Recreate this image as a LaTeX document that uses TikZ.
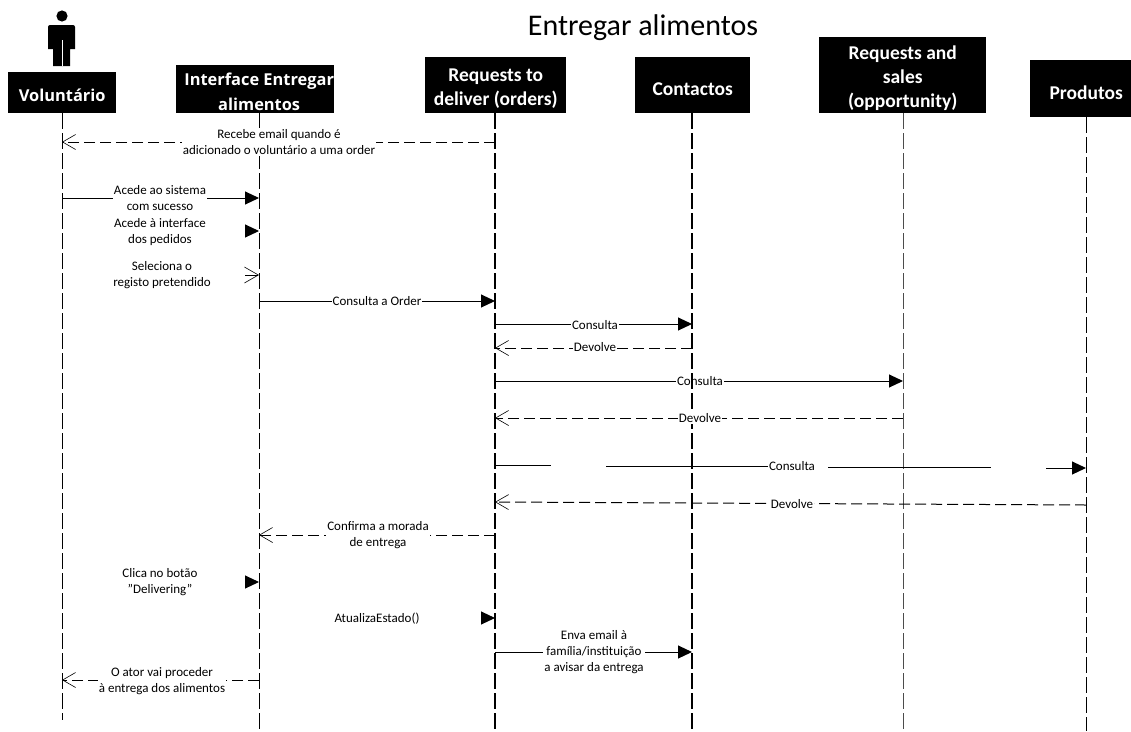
\documentclass[tikz,border=0pt]{standalone}
\usepackage{fontspec}
\setmainfont{Carlito}
\newfontfamily\headalt{Open Sans}
\usetikzlibrary{arrows.meta}
\tikzset{
  x=1pt,y=-1pt,
  hbox/.style={fill=black,inner sep=0pt},
  htext/.style={text=white,inner sep=0pt,align=center,font=\bfseries\fontsize{19.5}{24}\selectfont},
  htextalt/.style={htext,font=\headalt\bfseries\fontsize{16.4}{24.5}\selectfont},
  life/.style={dash pattern=on 16pt off 4pt,line width=1pt},
  msg/.style={line width=1pt,-{Triangle[length=14pt,width=13pt]}},
  ret/.style={line width=1pt,dash pattern=on 11pt off 5pt,-{Straight Barb[length=13pt,width=15pt,line width=.6pt]}},
  lbl/.style={fill=white,inner sep=1pt,align=center,font=\fontsize{13}{16}\selectfont},
  free/.style={inner sep=1pt,align=center,font=\fontsize{13}{16}\selectfont},
}
% name, x0, x1, y0, y1, text style, xshift, yshift, text
\newcommand{\hdr}[9]{\node[hbox,minimum width=#3pt-#2pt,minimum height=#5pt-#4pt,anchor=north west,
  label={[#6,xshift=#7pt,yshift=-#8pt]center:{#9}}] (#1) at (#2,#4) {};}
\begin{document}
\begin{tikzpicture}
\useasboundingbox (0,0) rectangle (1131,731);
\node[font=\fontsize{30}{34}\selectfont,inner sep=0pt] (title) at (643,28) {Entregar alimentos};
% actor
\fill (62,16) circle (5.6);
\fill (48,27) arc[start angle=180,end angle=270,radius=2] -- (73,25) arc[start angle=-90,end angle=0,radius=2] -- (75,49) -- (70,49) -- (70,66) -- (53,66) -- (53,49) -- (48,49) -- cycle;
\draw[white,line width=.8pt] (62,40) -- (62,66);
% headers
\hdr{vol}{8}{116}{72}{113}{htextalt}{0}{3}{Voluntário}
\hdr{int}{176}{334}{65}{113}{htextalt}{4}{2.5}{Interface Entregar\\alimentos}
\hdr{req}{425}{566}{57}{113}{htext}{0}{3}{Requests to\\deliver (orders)}
\hdr{con}{635}{750}{57}{113}{htext}{0}{4}{Contactos}
\hdr{opp}{819}{986}{37}{113}{htext}{0}{3}{Requests and\\sales\\(opportunity)}
\hdr{pro}{1030}{1131}{60}{117}{htext}{5.5}{4}{Produtos}
% lifeline ends
\coordinate (volE) at (62,720);
\coordinate (intE) at (259,731);
\coordinate (reqE) at (495,731);
\coordinate (conE) at (692,731);
\coordinate (oppE) at (903,731);
\coordinate (proE) at (1086,731);
\draw[life] (62,113) -- (volE);
\draw[life] (259,113) -- (intE);
\draw[life,line width=1.5pt] (495,113) -- (reqE);
\draw[life,draw=black!70] (903,113) -- (oppE);
\draw[life] (1086,117) -- (proE);
% message end points
\foreach \n/\x/\y in {a1/495/142,a2/62/142,b1/62/198,b2/259/198,c1/245/231,c2/259/231,d1/245/275,d2/259/275,
  e1/259/301,e2/495/301,f1/495/324,f2/692/324,g1/692/348,g2/495/348,h1/495/381,h2/903/381,i1/903/418,i2/495/418,
  k1/1086/505,k2/495/502,l1/495/535,l2/259/535,m1/245/582,m2/259/582,n1/481/618,n2/495/618,o1/495/652,o2/692/652,
  p1/259/680,p2/62/680,j1/495/465,j2/551/465,j3/606/466,j3b/770/466,j3c/828/467,j4/991/467,j5/1046/468,j6/1086/468}
  {\coordinate (\n) at (\x,\y);}
% connectors
\draw[ret] (a1) -- (a2);
\draw[msg] (b1) -- (b2);
\draw[msg] (c1) -- (c2);
\draw[line width=.8pt,-{Straight Barb[length=14pt,width=16pt,line width=.6pt]}] (d1) -- (d2);
\draw[msg] (e1) -- (e2);
\draw[msg] (f1) -- (f2);
\draw[ret] (g1) -- (g2);
\draw[msg] (h1) -- (h2);
\draw[ret] (i1) -- (i2);
\draw[line width=1pt] (j1) -- (j2);
\draw[line width=1pt] (j3) -- (j3b);
\draw[line width=1pt] (j3c) -- (j4);
\draw[msg] (j5) -- (j6);
\draw[ret] (k1) -- (k2);
\draw[ret] (l1) -- (l2);
\draw[msg] (m1) -- (m2);
\draw[msg] (n1) -- (n2);
\draw[msg] (o1) -- (o2);
\draw[ret] (p1) -- (p2);
% labels
\node[lbl] (t1) at (279,142) {Recebe email quando é\\adicionado o voluntário a uma order};
\node[lbl] (t2) at (160,198) {Acede ao sistema\\com sucesso};
\node[free] (t3) at (160,232.5) {Acede à interface\\dos pedidos};
\node[free] (t4) at (162,275.5) {Seleciona o\\registo pretendido};
\node[lbl] (t5) at (377,301) {Consulta a Order};
\node[lbl] (t6) at (595,325) {Consulta};
\node[lbl] (t7) at (595,347) {Devolve};
\node[lbl] (t8) at (700,381) {Consulta};
\draw[life,line width=2pt] (692,113) -- (conE);
\node[lbl] (t9) at (700,418) {Devolve};
\node[lbl] (t10) at (792,466) {Consulta};
\node[lbl] (t11) at (792,504) {Devolve};
\node[lbl] (t12) at (378,535) {Confirma a morada\\de entrega};
\node[free] (t13) at (160,582) {Clica no botão\\"Delivering"};
\node[free] (t14) at (377,619) {AtualizaEstado()};
\node[lbl] (t15) at (594,652) {Enva email à\\família/instituição\\a avisar da entrega};
\node[lbl] (t16) at (162,681) {O ator vai proceder\\à entrega dos alimentos};
\end{tikzpicture}
\end{document}
